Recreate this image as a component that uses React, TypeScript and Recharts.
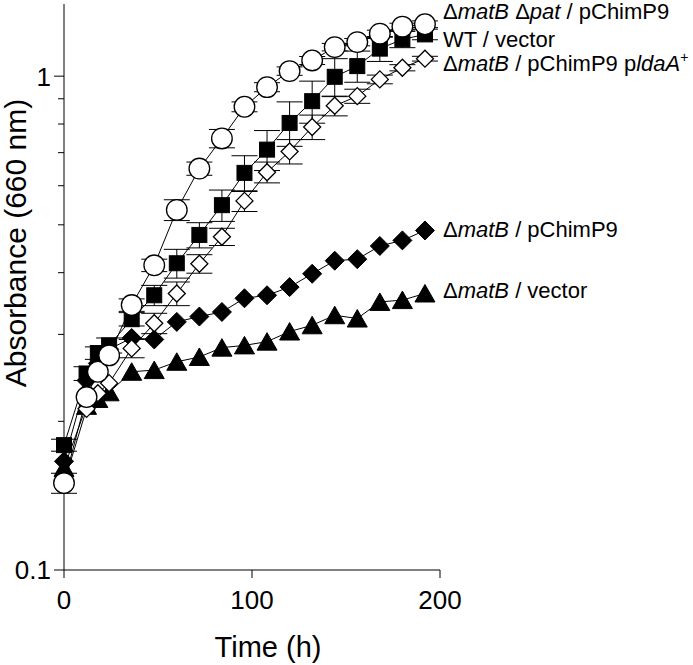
import { LineChart, Line, XAxis, YAxis, ErrorBar } from 'recharts'

const FONT = '"Liberation Sans", Arial, Helvetica, sans-serif'

// sampling times (h)
const TIMES = [0, 12, 18, 24, 36, 48, 60, 72, 84, 96, 108, 120, 132, 144, 156, 168, 180, 192]

// ΔmatB Δpat / pChimP9 (open circles)
const DPAT = [0.150, 0.224, 0.252, 0.272, 0.344, 0.414, 0.536, 0.650, 0.748, 0.867, 0.950, 1.024, 1.076, 1.145, 1.172, 1.219, 1.260, 1.274]
const DPAT_ERR = [0.007, 0, 0, 0, 0.01, 0.012, 0.026, 0.02, 0.032, 0.02, 0.02, 0.02, 0.02, 0.02, 0.02, 0.02, 0.02, 0.02]

// WT / vector (filled squares)
const WT = [0.179, 0.250, 0.275, 0.285, 0.322, 0.360, 0.418, 0.477, 0.548, 0.637, 0.710, 0.804, 0.890, 0.997, 1.048, 1.137, 1.187, 1.215]
const WT_ERR = [0.005, 0.008, 0.008, 0.01, 0.01, 0.017, 0.028, 0.028, 0.040, 0.053, 0.066, 0.083, 0.087, 0.088, 0.076, 0.066, 0.045, 0.03]

// ΔmatB / pChimP9 pldaA+ (open diamonds)
const LDAA = [0.150, 0.212, 0.228, 0.239, 0.281, 0.316, 0.363, 0.417, 0.473, 0.559, 0.639, 0.704, 0.789, 0.871, 0.911, 0.985, 1.040, 1.085]
const LDAA_ERR = [0, 0, 0, 0, 0.012, 0.015, 0.020, 0.018, 0.019, 0.027, 0.031, 0.040, 0.045, 0.040, 0.030, 0.020, 0.015, 0.012]

// ΔmatB / pChimP9 (filled diamonds)
const PCHIM = [0.166, 0.242, 0.262, 0.280, 0.295, 0.293, 0.318, 0.326, 0.333, 0.355, 0.360, 0.374, 0.398, 0.423, 0.426, 0.453, 0.465, 0.487]

// ΔmatB / vector (filled triangles)
const VEC = [0.161, 0.215, 0.222, 0.229, 0.252, 0.254, 0.264, 0.270, 0.282, 0.285, 0.290, 0.304, 0.313, 0.328, 0.323, 0.349, 0.352, 0.363]

const X_TICKS = [0, 100, 200]
const Y_TICKS = [0.1, 0.2, 0.3, 0.4, 0.5, 0.6, 0.7, 0.8, 0.9, 1]

const data = TIMES.map((t, i) => ({
  t,
  dpat: DPAT[i], dpatErr: DPAT_ERR[i],
  wt: WT[i], wtErr: WT_ERR[i],
  ldaa: LDAA[i], ldaaErr: LDAA_ERR[i],
  pchim: PCHIM[i],
  vec: VEC[i],
}))

const LAST = TIMES.length - 1

type Shape = 'circle' | 'square' | 'openDiamond' | 'diamond' | 'triangle'

function Marker({ cx, cy, shape }: { cx?: number; cy?: number; shape: Shape }) {
  if (cx == null || cy == null || isNaN(cy)) return null
  const sw = 1.3
  switch (shape) {
    case 'circle':
      return <circle cx={cx} cy={cy} r={10.3} fill="#fff" stroke="#000" strokeWidth={sw} />
    case 'square':
      return <rect x={cx - 7.5} y={cy - 7.5} width={15} height={15} fill="#000" stroke="#000" strokeWidth={1} />
    case 'openDiamond': {
      const h = 8.5
      return <path d={`M${cx},${cy - h}L${cx + h},${cy}L${cx},${cy + h}L${cx - h},${cy}Z`} fill="#fff" stroke="#000" strokeWidth={sw} />
    }
    case 'diamond': {
      const h = 9.5
      return <path d={`M${cx},${cy - h}L${cx + h},${cy}L${cx},${cy + h}L${cx - h},${cy}Z`} fill="#000" stroke="#000" strokeWidth={1} />
    }
    case 'triangle':
      return <path d={`M${cx},${cy - 9}L${cx + 10},${cy + 8.5}L${cx - 10},${cy + 8.5}Z`} fill="#000" stroke="#000" strokeWidth={1} />
  }
  return null
}

const dotFor = (shape: Shape) => (p: any) => <Marker key={`${shape}-${p.index}`} cx={p.cx} cy={p.cy} shape={shape} />

function YTick({ x, y, payload }: any) {
  const v = payload.value
  const major = Math.abs(v - 1) < 1e-9 || Math.abs(v - 0.1) < 1e-9
  const len = major ? 10 : 6
  return (
    <g>
      <line x1={x} x2={x - len} y1={y} y2={y} stroke="#000" strokeWidth={1} />
      {major && (
        <text x={x - len - 3} y={y} dy="0.36em" textAnchor="end" fontSize={26} fontFamily={FONT} fill="#000">
          {v === 1 ? '1' : '0.1'}
        </text>
      )}
    </g>
  )
}

function XTick({ x, y, payload }: any) {
  return (
    <g>
      <line x1={x} x2={x} y1={y} y2={y + 8} stroke="#000" strokeWidth={1} />
      <text x={x} y={y + 39} textAnchor="middle" fontSize={26} fontFamily={FONT} fill="#000">
        {payload.value}
      </text>
    </g>
  )
}

const it = (s: string) => <tspan fontStyle="italic">{s}</tspan>

const endLabel = (content: any, dy: number) => (p: any) => {
  if (p.index !== LAST) return <g key={`n-${p.index}`} />
  return (
    <text key="end" x={p.x + 18} y={p.y + dy} fontSize={22} fontFamily={FONT} fill="#000">
      {content}
    </text>
  )
}

export default function App() {
  return (
    <div style={{ position: 'absolute', left: 0, top: 0, width: 693, height: 665, background: '#fff' }}>
      <LineChart width={693} height={665} data={data} margin={{ top: 4, right: 253, bottom: 0, left: 0 }}>
        <XAxis
          dataKey="t" type="number" domain={[0, 200]} ticks={X_TICKS} height={95}
          axisLine={{ stroke: '#000', strokeWidth: 1 }} tickLine={false} tickSize={0} tickMargin={0}
          tick={<XTick />}
          label={{
            content: () => (
              <text x={268} y={657} textAnchor="middle" fontSize={29} fontFamily={FONT} fill="#000">Time (h)</text>
            ),
          }}
        />
        <YAxis
          type="number" scale="log" domain={[0.1, 1.4]} ticks={Y_TICKS} allowDataOverflow width={64}
          axisLine={{ stroke: '#000', strokeWidth: 1 }} tickLine={false} tickSize={0} tickMargin={0}
          tick={<YTick />} interval={0}
          label={{
            content: () => (
              <text transform="translate(26,243) rotate(-90)" textAnchor="middle" fontSize={30} fontFamily={FONT} fill="#000">
                Absorbance (660 nm)
              </text>
            ),
          }}
        />
        <Line dataKey="vec" type="linear" stroke="#000" strokeWidth={1} isAnimationActive={false}
          dot={dotFor('triangle')} activeDot={false}
          label={endLabel(<>{'Δ'}{it('matB')}{' / vector'}</>, 5)} />
        <Line dataKey="pchim" type="linear" stroke="#000" strokeWidth={1} isAnimationActive={false}
          dot={dotFor('diamond')} activeDot={false}
          label={endLabel(<>{'Δ'}{it('matB')}{' / pChimP9'}</>, 7)} />
        <Line dataKey="ldaa" type="linear" stroke="#000" strokeWidth={1} isAnimationActive={false}
          dot={dotFor('openDiamond')} activeDot={false}
          label={endLabel(<>{'Δ'}{it('matB')}{' / pChimP9 p'}{it('ldaA')}<tspan fontSize={14} dy={-9}>+</tspan></>, 12.5)}>
          <ErrorBar dataKey="ldaaErr" width={13} stroke="#000" strokeWidth={1} direction="y" />
        </Line>
        <Line dataKey="wt" type="linear" stroke="#000" strokeWidth={1} isAnimationActive={false}
          dot={dotFor('square')} activeDot={false}
          label={endLabel(<>{'WT / vector'}</>, 13)}>
          <ErrorBar dataKey="wtErr" width={13} stroke="#000" strokeWidth={1} direction="y" />
        </Line>
        <Line dataKey="dpat" type="linear" stroke="#000" strokeWidth={1} isAnimationActive={false}
          dot={dotFor('circle')} activeDot={false}
          label={endLabel(<>{'Δ'}{it('matB')}{' Δ'}{it('pat')}{' / pChimP9'}</>, -5)}>
          <ErrorBar dataKey="dpatErr" width={13} stroke="#000" strokeWidth={1} direction="y" />
        </Line>
      </LineChart>
    </div>
  )
}
